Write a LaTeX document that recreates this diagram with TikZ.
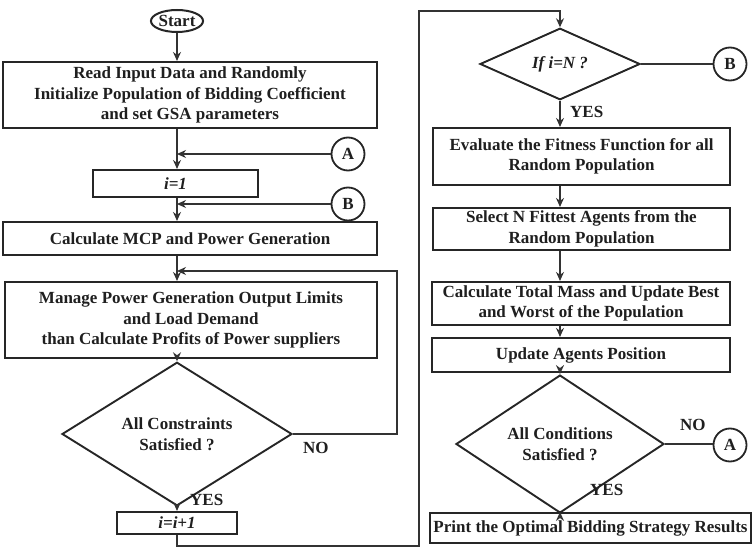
\documentclass[tikz,border=0pt]{standalone}
\usepackage{fontspec}
\setmainfont{Liberation Serif}
\usetikzlibrary{shapes.geometric,arrows.meta}
\begin{document}
\begin{tikzpicture}[x=1pt,y=-1pt,
  every node/.style={font=\fontsize{17}{20.5}\selectfont\bfseries, text=black!88},
  box/.style={draw=black!85, line width=2.1pt, rectangle, align=center, inner sep=0pt},
  dia/.style={draw=black!85, line width=1.9pt, diamond, align=center, inner sep=0pt},
  circ/.style={draw=black!85, line width=1.8pt, circle, inner sep=0pt, minimum size=33pt},
  conn/.style={draw=black!80, line width=1.4pt},
  arr/.style={conn, -{Stealth[length=9pt,width=8pt]}},
  lab/.style={inner sep=0pt, anchor=west}
]
\useasboundingbox (0,0) rectangle (753,548);
\fill[white] (0,0) rectangle (753,548);
\coordinate (axL) at (177,0);
\coordinate (axR) at (560,0);
% left column
\node[draw=black!85, line width=2pt, ellipse, minimum width=52pt, minimum height=22pt, inner sep=0pt] (start) at (177,21) {Start};
\node[box, minimum width=374pt, minimum height=66pt] (b1) at (190,95) {Read Input Data and Randomly\\Initialize Population of Bidding Coefficient\\and set GSA parameters};
\node[circ] (A1) at (348,154) {A};
\node[box, minimum width=165pt, minimum height=27pt] (i1) at (175.5,183.5) {\itshape i=1};
\node[circ] (B1) at (348,204) {B};
\node[box, minimum width=374pt, minimum height=33pt] (b2) at (190,238.5) {Calculate MCP and Power Generation};
\node[box, minimum width=372pt, minimum height=76pt] (b3) at (191,320) {Manage Power Generation Output Limits\\and Load Demand\\than Calculate Profits of Power suppliers};
\node[dia, minimum width=230pt, minimum height=92pt] (d1) at (177,434) {All Constraints\\Satisfied ?};
\node[lab] (no1) at (303,448) {NO};
\node[lab] (yes1) at (190,500) {YES};
\node[box, minimum width=120pt, minimum height=22pt] (i2) at (177,523) {\itshape i=i+1};
% right column
\node[dia, minimum width=160pt, minimum height=62pt] (d2) at (560,64) {\itshape If i=N ?};
\node[circ] (B2) at (730,64) {B};
\node[lab] (yes2) at (570,112) {YES};
\node[box, minimum width=297pt, minimum height=57pt] (r1) at (581.5,156.5) {Evaluate the Fitness Function for all\\Random Population};
\node[box, minimum width=297pt, minimum height=42pt] (r2) at (581.5,229) {Select N Fittest Agents from the\\Random Population};
\node[box, minimum width=298pt, minimum height=43pt] (r3) at (581,303.5) {Calculate Total Mass and Update Best\\and Worst of the Population};
\node[box, minimum width=298pt, minimum height=34pt] (r4) at (581,355) {Update Agents Position};
\node[dia, minimum width=208pt, minimum height=92pt] (d3) at (560,444) {All Conditions\\Satisfied ?};
\node[lab] (no2) at (680,425) {NO};
\node[circ] (A2) at (730,445) {A};
\node[lab] (yes2b) at (590,490) {YES};
\node[box, minimum width=321pt, minimum height=30pt] (r5) at (590.5,528) {Print the Optimal Bidding Strategy Results};
% coordinates
\coordinate (loopTop) at (177,271);
\coordinate (loopR) at (397,271);
\coordinate (c2) at (419,546);
\coordinate (c4) at (560,11);
% connectors left
\draw[arr] (start) -- (start |- b1.north);
\draw[arr] (b1.south -| axL) -- (i1.north -| axL);
\draw[arr] (A1.west) -- (A1.west -| axL);
\draw[arr] (i1.south -| axL) -- (b2.north -| axL);
\draw[arr] (B1.west) -- (B1.west -| axL);
\draw[arr] (b2.south -| axL) -- (b3.north -| axL);
\draw[arr] (d1.east) -- (d1.east -| loopR) -- (loopR) -- (loopTop);
\draw[arr] (b3.south -| axL) -- (d1.north);
\draw[arr] (d1.south) -- (i2.north);
\draw[arr] (i2.south) |- (c2) |- (c4) -- (d2.north);
% connectors right
\draw[conn] (d2.east) -- (B2.west);
\draw[arr] (d2.south) -- (r1.north -| axR);
\draw[arr] (r1.south -| axR) -- (r2.north -| axR);
\draw[arr] (r2.south -| axR) -- (r3.north -| axR);
\draw[arr] (r3.south -| axR) -- (r4.north -| axR);
\draw[arr] (r4.south -| axR) -- (d3.north);
\draw[conn] (d3.east) -- (d3.east -| A2.west);
\draw[arr] (d3.south) -- (r5.north -| axR);
\end{tikzpicture}
\end{document}
